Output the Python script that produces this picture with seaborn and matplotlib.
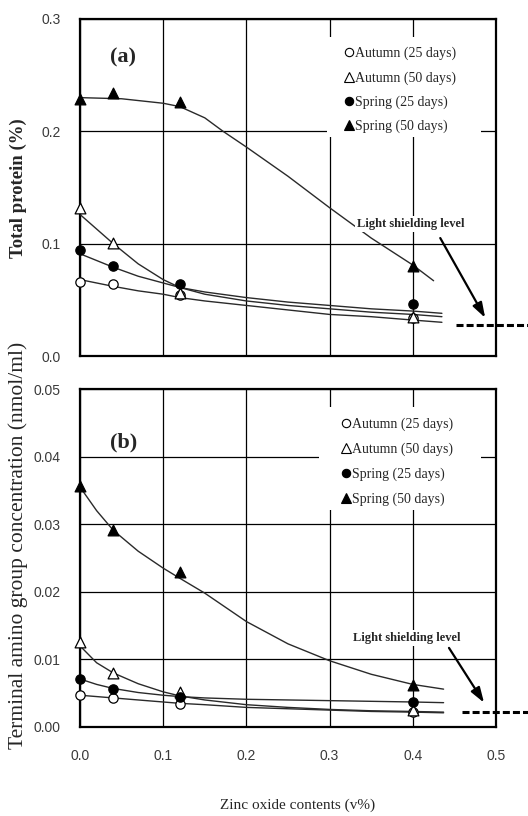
import matplotlib
matplotlib.use("Agg")
import matplotlib.pyplot as plt
from matplotlib.lines import Line2D
from matplotlib.patches import Rectangle
import seaborn as sns
import pandas as pd

# ---------------- data ----------------
zno = [0.0, 0.04, 0.12, 0.40]
series = ["Autumn (25 days)", "Autumn (50 days)", "Spring (25 days)", "Spring (50 days)"]

# (a) total protein (%)
prot_autumn25 = [0.066, 0.064, 0.054, 0.034]
prot_autumn50 = [0.132, 0.101, 0.056, 0.035]
prot_spring25 = [0.094, 0.080, 0.064, 0.046]
prot_spring50 = [0.229, 0.234, 0.226, 0.080]

# (b) terminal amino group concentration (nmol/ml)
amino_autumn25 = [0.0047, 0.0043, 0.0034, 0.0022]
amino_autumn50 = [0.0126, 0.0080, 0.0052, 0.0025]
amino_spring25 = [0.0071, 0.0056, 0.0044, 0.0037]
amino_spring50 = [0.0357, 0.0292, 0.0229, 0.0062]

# fitted trend curves
cx_top = [0.0, 0.02, 0.04, 0.07, 0.10, 0.12, 0.15, 0.20, 0.25, 0.30, 0.35, 0.40, 0.435]
fit_prot_autumn25 = [0.068, 0.065, 0.062, 0.058, 0.055, 0.052, 0.049, 0.045, 0.041, 0.037, 0.035, 0.032, 0.030]
fit_prot_autumn50 = [0.126, 0.113, 0.100, 0.082, 0.068, 0.061, 0.055, 0.049, 0.045, 0.042, 0.039, 0.037, 0.035]
fit_prot_spring25 = [0.091, 0.085, 0.079, 0.071, 0.065, 0.061, 0.057, 0.052, 0.048, 0.045, 0.042, 0.040, 0.038]
cx_top_s50 = [0.0, 0.05, 0.10, 0.12, 0.15, 0.172, 0.20, 0.25, 0.30, 0.35, 0.40, 0.425]
fit_prot_spring50 = [0.230, 0.229, 0.225, 0.222, 0.212, 0.200, 0.186, 0.160, 0.132, 0.105, 0.081, 0.067]

cx_bot = [0.0, 0.02, 0.04, 0.07, 0.10, 0.12, 0.15, 0.20, 0.25, 0.30, 0.35, 0.40, 0.437]
fit_amino_autumn25 = [0.0047, 0.0045, 0.0043, 0.0040, 0.0037, 0.0035, 0.0033, 0.0029, 0.0027, 0.0025, 0.0023, 0.0022, 0.0021]
fit_amino_autumn50 = [0.0120, 0.0095, 0.0080, 0.0064, 0.0052, 0.0046, 0.0040, 0.0033, 0.0029, 0.0026, 0.0024, 0.0023, 0.0022]
fit_amino_spring25 = [0.0071, 0.0063, 0.0057, 0.0051, 0.0047, 0.0045, 0.0043, 0.0041, 0.0040, 0.0039, 0.0038, 0.0037, 0.0036]
fit_amino_spring50 = [0.0355, 0.0320, 0.0291, 0.0260, 0.0235, 0.0220, 0.0198, 0.0156, 0.0123, 0.0098, 0.0078, 0.0063, 0.0056]

shield_top = 0.028
shield_bot = 0.0022

xticks = [0.0, 0.1, 0.2, 0.3, 0.4, 0.5]
xticklabels = ["0.0", "0.1", "0.2", "0.3", "0.4", "0.5"]
yticks_top = [0.0, 0.1, 0.2, 0.3]
yticklabels_top = ["0.0", "0.1", "0.2", "0.3"]
yticks_bot = [0.0, 0.01, 0.02, 0.03, 0.04, 0.05]
yticklabels_bot = ["0.00", "0.01", "0.02", "0.03", "0.04", "0.05"]

# ---------------- style ----------------
sns.set_style("white")
SERIF = ["Liberation Serif", "DejaVu Serif"]
NARROW = ["Liberation Sans", "DejaVu Sans"]
plt.rcParams["font.family"] = SERIF

marker_style = {
    "Autumn (25 days)": dict(marker="o", facecolor="white", s=45),
    "Autumn (50 days)": dict(marker="^", facecolor="white", s=60),
    "Spring (25 days)": dict(marker="o", facecolor="black", s=45),
    "Spring (50 days)": dict(marker="^", facecolor="black", s=60),
}

fig = plt.figure(figsize=(5.28, 8.16), dpi=100)
ax1 = fig.add_axes([80 / 528, 1 - 356 / 816, 416 / 528, 337 / 816])
ax2 = fig.add_axes([80 / 528, 1 - 727 / 816, 416 / 528, 338 / 816])


def draw_panel(ax, meas, curves, ylim, yticks, yticklabels, show_x):
    for (cx, cy) in curves:
        sns.lineplot(x=cx, y=cy, ax=ax, color="#2a2a2a", lw=1.0,
                     estimator=None, sort=False, zorder=3)
    for name, vals in zip(series, meas):
        st = marker_style[name]
        sns.scatterplot(x=zno, y=vals, ax=ax, marker=st["marker"], s=st["s"],
                        color=st["facecolor"], edgecolor="black", linewidth=0.9,
                        zorder=4, clip_on=False)
    ax.set_xlim(0, 0.5)
    ax.set_ylim(*ylim)
    ax.set_xticks(xticks)
    ax.set_yticks(yticks)
    ax.set_yticklabels(yticklabels, family=NARROW, fontsize=10, color="#3a3a3a")
    if show_x:
        ax.set_xticklabels(xticklabels, family=NARROW, fontsize=10, color="#3a3a3a")
    else:
        ax.set_xticklabels([])
    ax.tick_params(axis="both", length=0)
    ax.tick_params(axis="y", pad=14)
    ax.tick_params(axis="x", pad=16)
    ax.grid(True, color="black", lw=0.9, zorder=0)
    ax.set_axisbelow(True)
    for sp in ax.spines.values():
        sp.set_color("black")
        sp.set_linewidth(1.6)
    ax.set_xlabel("")
    ax.set_ylabel("")


draw_panel(ax1,
           [prot_autumn25, prot_autumn50, prot_spring25, prot_spring50],
           [(cx_top, fit_prot_autumn25), (cx_top, fit_prot_autumn50),
            (cx_top, fit_prot_spring25), (cx_top_s50, fit_prot_spring50)],
           (0, 0.3), yticks_top, yticklabels_top, False)
draw_panel(ax2,
           [amino_autumn25, amino_autumn50, amino_spring25, amino_spring50],
           [(cx_bot, fit_amino_autumn25), (cx_bot, fit_amino_autumn50),
            (cx_bot, fit_amino_spring25), (cx_bot, fit_amino_spring50)],
           (0, 0.05), yticks_bot, yticklabels_bot, True)


# legends: white patch masking the grid, then frameless legend on top
def make_legend(ax, box_px, anchor_px, ax_px, spacing):
    x0, y0, x1, y1 = box_px
    axl, axt, axw, axh = ax_px
    ax.add_patch(Rectangle(((x0 - axl) / axw, (axt + axh - y1) / axh),
                           (x1 - x0) / axw, (y1 - y0) / axh,
                           transform=ax.transAxes, facecolor="white",
                           edgecolor="none", zorder=1))
    handles = []
    for name in series:
        st = marker_style[name]
        handles.append(Line2D([], [], ls="", marker=st["marker"],
                              markerfacecolor=st["facecolor"], markeredgecolor="black",
                              markeredgewidth=0.8, markersize=6.5 if st["marker"] == "^" else 6))
    ax_x, ax_y = anchor_px
    leg = ax.legend(handles, series, loc="upper left",
                    bbox_to_anchor=((ax_x - axl) / axw, (axt + axh - ax_y) / axh),
                    frameon=False, borderpad=0.2, handlelength=0.6,
                    handletextpad=0.15, labelspacing=spacing, borderaxespad=0,
                    prop={"family": SERIF, "size": 10})
    leg.set_zorder(5)
    return leg

make_legend(ax1, (327, 37, 481, 137), (342, 44), (80, 19, 416, 337), 0.78)
make_legend(ax2, (319, 407, 481, 510), (339, 415), (80, 389, 416, 338), 0.82)

# panel tags
ax1.text(0.103, 0.887, "(a)", transform=ax1.transAxes, ha="center", va="center",
         fontsize=16, fontweight="bold", family=SERIF, zorder=6,
         bbox=dict(facecolor="white", edgecolor="none", pad=2))
ax2.text(0.106, 0.843, "(b)", transform=ax2.transAxes, ha="center", va="center",
         fontsize=16, fontweight="bold", family=SERIF, zorder=6,
         bbox=dict(facecolor="white", edgecolor="none", pad=2))

# light shielding level annotations
arrow_kw = dict(arrowstyle="-|>,head_width=0.3,head_length=0.9", lw=1.6,
                color="black", shrinkA=0, shrinkB=0)
ax1.text(0.398, 0.1175, "Light shielding level", ha="center", va="center",
         fontsize=9, fontweight="bold", family=SERIF, zorder=6,
         bbox=dict(facecolor="white", edgecolor="none", pad=1.5))
ax1.annotate("", xy=(0.487, 0.034), xytext=(0.433, 0.105), arrowprops=arrow_kw,
             annotation_clip=False, zorder=6)
ax1.plot([0.452, 0.545], [shield_top, shield_top], color="black", lw=2.2,
         dashes=(2.3, 1.0), clip_on=False, zorder=6)

ax2.text(0.393, 0.0132, "Light shielding level", ha="center", va="center",
         fontsize=9, fontweight="bold", family=SERIF, zorder=6,
         bbox=dict(facecolor="white", edgecolor="none", pad=1.5))
ax2.annotate("", xy=(0.4856, 0.0036), xytext=(0.4435, 0.0117), arrowprops=arrow_kw,
             annotation_clip=False, zorder=6)
ax2.plot([0.459, 0.545], [shield_bot, shield_bot], color="black", lw=2.2,
         dashes=(2.3, 1.0), clip_on=False, zorder=6)

# axis titles
fig.text(18 / 528, 1 - 188 / 816, "Total protein (%)", rotation=90, ha="center",
         va="center", fontsize=13.5, fontweight="bold", family=SERIF)
fig.text(18 / 528, 1 - 545 / 816, "Terminal amino group concentration (nmol/ml)",
         rotation=90, ha="center", va="center", fontsize=15.5, family=SERIF)
fig.text(298 / 528, 1 - 805 / 816, "Zinc oxide contents (v%)", ha="center",
         va="center", fontsize=11, family=SERIF)

fig.savefig("out.png", dpi=100, facecolor="white")
